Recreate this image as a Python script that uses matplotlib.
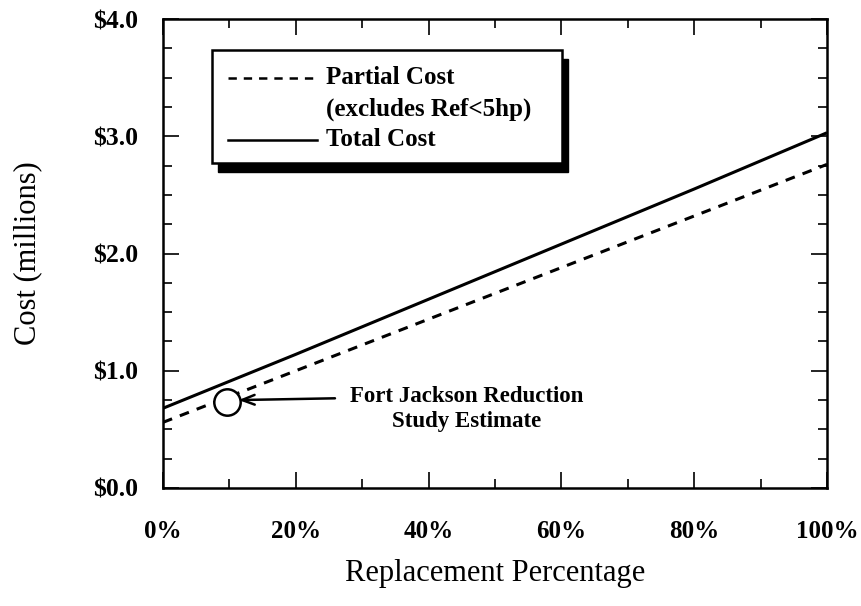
import matplotlib
matplotlib.use("Agg")
import matplotlib.pyplot as plt
from matplotlib.patches import Rectangle
from matplotlib.ticker import MultipleLocator, FuncFormatter

# ---- data ----
replacement_pct = [0, 20, 40, 60, 80, 100]
total_cost = [0.68, 1.14, 1.61, 2.08, 2.55, 3.03]
partial_cost = [0.56, 1.00, 1.44, 1.88, 2.32, 2.76]
estimate_pct = [9.6]
estimate_cost = [0.736]
legend_labels = ["Partial Cost", "(excludes Ref<5hp)", "Total Cost"]
annotation_text = "Fort Jackson Reduction\nStudy Estimate"

plt.rcParams['font.family'] = ['Liberation Serif', 'DejaVu Serif']
plt.rcParams['lines.scale_dashes'] = False

fig = plt.figure(figsize=(8.61, 6.06), dpi=100)
ax = fig.add_axes([163/861, 1-488/606, (827-163)/861, (488-19)/606])

ax.plot(replacement_pct, total_cost, color='black', lw=2.2, solid_capstyle='butt')
ax.plot(replacement_pct, partial_cost, color='black', lw=2.2, dashes=(7, 6))
ax.plot(estimate_pct, estimate_cost, 'o', ms=19, mfc='white', mec='black', mew=1.8, zorder=5)

ax.set_xlim(0, 100)
ax.set_ylim(0, 4)
ax.xaxis.set_major_locator(MultipleLocator(20))
ax.xaxis.set_minor_locator(MultipleLocator(10))
ax.yaxis.set_major_locator(MultipleLocator(1))
ax.yaxis.set_minor_locator(MultipleLocator(0.25))
ax.xaxis.set_major_formatter(FuncFormatter(lambda v, p: f"{v:.0f}%"))
ax.yaxis.set_major_formatter(FuncFormatter(lambda v, p: f"${v:.1f}"))

ax.tick_params(which='both', direction='in', top=True, right=True, width=1.2, color='black')
ax.tick_params(which='major', length=11.5)
ax.tick_params(which='minor', length=6.5)
ax.tick_params(axis='x', which='major', pad=23, labelsize=18)
ax.tick_params(axis='y', which='major', pad=18, labelsize=18.5)
for lab in ax.get_xticklabels() + ax.get_yticklabels():
    lab.set_fontweight('bold')
for sp in ax.spines.values():
    sp.set_linewidth(1.8)

fig.text(28/861, 1-253/606, "Cost (millions)", rotation=90, ha='center', va='center', fontsize=22)
fig.text(495/861, 1-574/606, "Replacement Percentage", ha='center', va='center', fontsize=22)

# legend drawn in axes coordinates
def fx(px):
    return (px-163)/664
def fy(py):
    return (488-py)/469

bl, bt, br, bb = fx(212), fy(50), fx(562), fy(163)
shadow = Rectangle((bl + 6/664, bb - 9/469), br-bl, bt-bb, transform=ax.transAxes,
                   facecolor='black', edgecolor='black', zorder=6)
box = Rectangle((bl, bb), br-bl, bt-bb, transform=ax.transAxes,
                facecolor='white', edgecolor='black', lw=1.8, zorder=7)
ax.add_patch(shadow)
ax.add_patch(box)
ax.plot([fx(228), fx(317)], [fy(78), fy(78)], transform=ax.transAxes, color='black',
        lw=1.8, dashes=(6, 5), zorder=8)
ax.plot([fx(228), fx(317)], [fy(140), fy(140)], transform=ax.transAxes, color='black',
        lw=1.8, zorder=8)
for lab, py in zip(legend_labels, [78, 109, 140]):
    ax.text(fx(326), fy(py), lab, transform=ax.transAxes, ha='left', va='center',
            fontsize=18, fontweight='bold', zorder=9)

ax.annotate('', xy=(11.4, 0.75), xytext=(25.9, 0.765),
            arrowprops=dict(arrowstyle='->,head_length=0.9,head_width=0.35', lw=1.8, color='black',
                            shrinkA=0, shrinkB=0))
ax.text(45.8, 0.674, annotation_text, ha='center', va='center', multialignment='center',
        fontsize=16.5, fontweight='bold', linespacing=1.25)

fig.savefig("out.png", dpi=100)
